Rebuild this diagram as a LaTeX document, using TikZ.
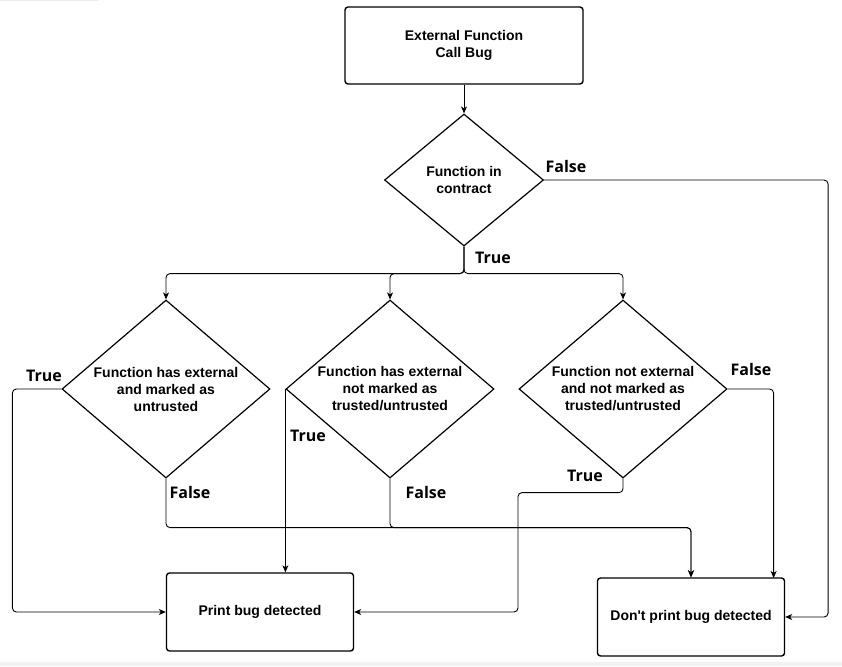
\documentclass[tikz,border=0pt]{standalone}
\usepackage{fontspec}
\setmainfont{Liberation Sans}
\newfontfamily\labelfont{Open Sans}
\usetikzlibrary{shapes.geometric,arrows.meta}

\begin{document}
\begin{tikzpicture}[
    x=1pt, y=-1pt,
    box/.style={rectangle, draw, line width=1.4pt, rounded corners=3pt, minimum width=187pt, minimum height=78pt, align=center, font=\fontsize{14}{17}\selectfont\bfseries},
    decision/.style={diamond, draw, line width=1.2pt, inner sep=0pt, align=center, font=\fontsize{14}{17}\selectfont\bfseries},
    small/.style={decision, minimum width=159pt, minimum height=132pt, shape aspect=1.2},
    big/.style={decision, minimum width=208pt, minimum height=178pt, shape aspect=1.17},
    tag/.style={font=\labelfont\fontsize{16}{18}\selectfont\bfseries, inner sep=0pt},
    arrow/.style={-{Stealth[length=7pt,width=6pt,inset=2pt]}, line width=0.9pt, rounded corners=4pt}
]
\useasboundingbox (0,0) rectangle (842,666);
\fill[gray!10] (0,662) rectangle (842,666);
\fill[gray!15] (0,0) rectangle (98,1);

% Start and first test
\node[box, minimum width=238pt, minimum height=77pt] (start) at (464,45.5) {External Function\\Call Bug};
\node[small] (incontract) at (464,180) {Function in\\contract};

% Second level tests
\node[big] (untrusted) at (166,389) {Function has external\\and marked as\\untrusted};
\node[big] (unmarked) at (390,389) {Function has external\\not marked as\\trusted/untrusted};
\node[big] (internal) at (623,389) {Function not external\\and not marked as\\trusted/untrusted};

% Results
\node[box] (print) at (260,612) {Print bug detected};
\node[box] (noprint) at (691,617) {Don\textquotesingle t print bug detected};

% Connections
\draw[arrow] (start) -- (incontract);
\draw[arrow] (incontract.south) -- ++(0,27) -| (untrusted.north);
\draw[arrow] (incontract.south) -- ++(0,27) -| (unmarked.north);
\draw[arrow] (incontract.south) -- ++(0,27) -| (internal.north);
\draw[arrow] (incontract.east) -- ++(284,0) |- (noprint.east);

\draw[arrow] (untrusted.west) -- ++(-49,0) |- (print.west);
\draw[arrow] (untrusted.south) -- ++(0,49) -| (noprint.north);
\draw[arrow] (unmarked.west) -- (unmarked.west |- print.north);
\draw[arrow] (unmarked.south) -- ++(0,49) -| (noprint.north);
\draw[arrow] (internal.south) -- ++(0,14) -- ++(-105,0) |- (print.east);
\draw[arrow] (internal.east) -- ++(46,0) -- ++(0,189);

% Branch labels
\node[tag] (f0) at (566,166) {False};
\node[tag] (t0) at (493,258) {True};
\node[tag] (t1) at (44,376) {True};
\node[tag] (f1) at (190,492) {False};
\node[tag] (t2) at (308,436) {True};
\node[tag] (f2) at (426,492) {False};
\node[tag] (t3) at (585,476) {True};
\node[tag] (f3) at (751,369) {False};

\end{tikzpicture}
\end{document}
